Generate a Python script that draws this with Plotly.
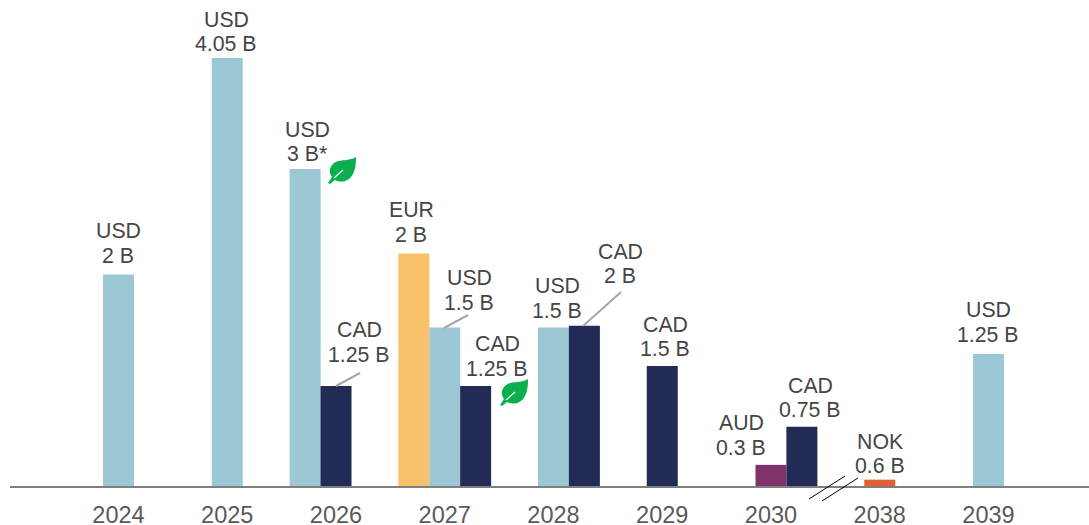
import plotly.graph_objects as go

W, H = 1089, 525
BASE = 486
PX_PER_B = 105.7
STEP = 108.75
X0 = 118.5
AX_LEFT = 10
BAR_PX = 31

years = ["2024", "2025", "2026", "2027", "2028", "2029", "2030", "2038", "2039"]

# bar heights are on a common (USD-equivalent) scale; position = year index + slot offset
SLOT = 0.284
usd_pos = [0, 1, 2 - SLOT, 3, 4, 8]
usd_vals = [2.0, 4.05, 3.0, 1.5, 1.5, 1.25]
cad_pos = [2, 3 + SLOT, 4 + SLOT, 5, 6 + SLOT]
cad_vals = [0.945, 0.945, 1.515, 1.135, 0.56]
eur_pos = [3 - SLOT]
eur_vals = [2.2]
aud_pos = [6]
aud_vals = [0.2]
nok_pos = [7]
nok_vals = [0.06]

series_colors = {"USD": "#9BC8D4", "CAD": "#212B55", "EUR": "#F8C16C", "AUD": "#7E3469", "NOK": "#E06031"}

label_line1 = ["USD", "USD", "USD", "CAD", "EUR", "USD", "CAD", "USD", "CAD", "CAD", "AUD", "CAD", "NOK", "USD"]
label_line2 = ["2 B", "4.05 B", "3 B*", "1.25 B", "2 B", "1.5 B", "1.25 B", "1.5 B", "2 B", "1.5 B", "0.3 B", "0.75 B", "0.6 B", "1.25 B"]
label_px = [(118, 231, 256), (226, 20, 44), (307, 130, 154), (359, 330, 355), (411, 210, 235),
            (469, 278, 303), (497, 344, 369), (557, 286, 311), (620, 252, 276), (665, 325, 349),
            (741, 423, 448), (810, 386, 410), (880, 442, 466), (988, 310, 335)]

leaders = [((336, 386), (360, 373)), ((444, 328), (468, 315)), ((583, 326), (621, 292))]
breaks = [((809, 499), (845, 476)), ((822, 501), (858, 478))]
leaves = [(328, 157), (500, 379)]


def px(x):
    return (x - AX_LEFT) / (W - AX_LEFT)


def py(y):
    return (BASE - y) / BASE


fig = go.Figure()
for name, xs, ys in [("USD", usd_pos, usd_vals), ("CAD", cad_pos, cad_vals), ("EUR", eur_pos, eur_vals),
                     ("AUD", aud_pos, aud_vals), ("NOK", nok_pos, nok_vals)]:
    fig.add_bar(x=xs, y=ys, name=name, width=BAR_PX / STEP, marker=dict(color=series_colors[name], line_width=0))

annotations = []
for a, b, (x, y1, y2) in zip(label_line1, label_line2, label_px):
    for text, y in ((a, y1), (b, y2)):
        annotations.append(dict(text=text, x=px(x), y=py(y), xref="paper", yref="paper", xanchor="center",
                                yanchor="middle", showarrow=False, font=dict(size=21.3, color="#454545")))

shapes = []
for (x1, y1), (x2, y2) in leaders:
    shapes.append(dict(type="line", xref="paper", yref="paper", x0=px(x1), y0=py(y1), x1=px(x2), y1=py(y2),
                       line=dict(color="#A6A6A6", width=2)))
for (x1, y1), (x2, y2) in breaks:
    shapes.append(dict(type="line", xref="paper", yref="paper", x0=px(x1), y0=py(y1), x1=px(x2), y1=py(y2),
                       line=dict(color="#000000", width=1)))

leaf_cmds = [("M", [(28, 0)]), ("C", [(21, 5), (9, 1), (4, 8)]), ("C", [(1, 12), (1, 16), (4, 20)]),
             ("L", [(0, 26)]), ("L", [(2, 27)]), ("L", [(7, 23)]), ("C", [(13, 26), (21, 25), (25, 17)]),
             ("C", [(28, 11), (28, 5), (28, 0)])]
for lx, ly in leaves:
    parts = []
    for c, pts in leaf_cmds:
        parts.append(c + " ".join(f"{px(lx + a):.5f},{py(ly + b):.5f}" for a, b in pts))
    shapes.append(dict(type="path", xref="paper", yref="paper", path=" ".join(parts) + " Z",
                       fillcolor="#0BAF4E", line_width=0))
    shapes.append(dict(type="line", xref="paper", yref="paper", x0=px(lx + 6), y0=py(ly + 21), x1=px(lx + 15),
                       y1=py(ly + 13), line=dict(color="#FFFFFF", width=1.2)))

fig.update_layout(
    width=W, height=H, autosize=False, showlegend=False, barmode="overlay",
    margin=dict(l=AX_LEFT, r=0, t=0, b=H - BASE, pad=0),
    paper_bgcolor="white", plot_bgcolor="white",
    annotations=annotations, shapes=shapes,
    xaxis=dict(range=[(AX_LEFT - X0) / STEP, (W - X0) / STEP], tickmode="array", automargin=False,
               tickvals=list(range(len(years))), ticktext=years, showgrid=False, zeroline=False,
               showline=True, linecolor="#7F7F7F", linewidth=1.5, ticks="", ticklabelstandoff=7,
               tickfont=dict(size=23.5, color="#595959")),
    yaxis=dict(range=[0, BASE / PX_PER_B], visible=False, showgrid=False, zeroline=False, automargin=False),
    font=dict(family="Liberation Sans, Arial, sans-serif"),
)
fig.write_html("out.html", post_script="document.body.style.margin='0';", config={"displayModeBar": False})
